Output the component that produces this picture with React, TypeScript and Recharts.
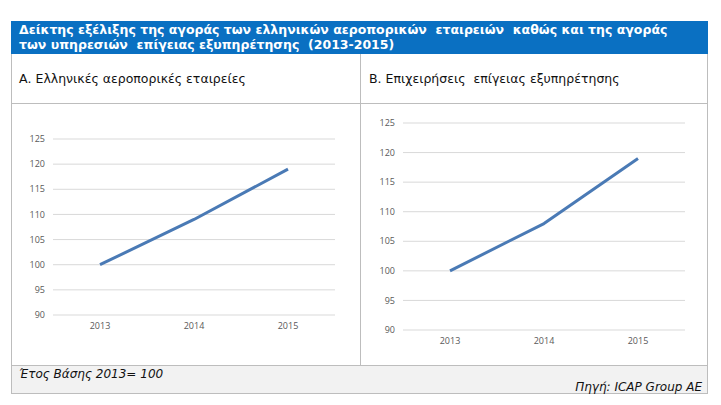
import React from "react";
import { LineChart, Line, XAxis, YAxis, CartesianGrid } from "recharts";

const years = ["2013", "2014", "2015"];
const airlinesIndex = [100, 109, 119];
const groundIndex = [100, 108, 119];
const yTicks = [90, 95, 100, 105, 110, 115, 120, 125];

const titleLine1 = "Δείκτης εξέλιξης της αγοράς των ελληνικών αεροπορικών  εταιρειών  καθώς και της αγοράς";
const titleLine2 = "των υπηρεσιών  επίγειας εξυπηρέτησης  (2013-2015)";
const panelA = "Α. Ελληνικές αεροπορικές εταιρείες";
const panelB = "Β. Επιχειρήσεις  επίγειας εξυπηρέτησης";
const noteText = "Έτος Βάσης 2013= 100";
const sourceText = "Πηγή: ICAP Group AE";

const airlinesData = years.map((y, i) => ({ year: y, value: airlinesIndex[i] }));
const groundData = years.map((y, i) => ({ year: y, value: groundIndex[i] }));

const LINE = "#4a7ab5";
const GRID = "#d9d9d9";
const BORDER = "#bdbdbd";
const tickStyle = { fontSize: 9, fill: "#595959", fontFamily: "'Open Sans', sans-serif" };

function MiniChart({ data, width, height, margin, xHeight }: any) {
  return (
    <LineChart width={width} height={height} data={data} margin={margin}>
      <CartesianGrid horizontal vertical={false} stroke={GRID} strokeWidth={1} />
      <XAxis
        dataKey="year"
        axisLine={false}
        tickLine={false}
        tickSize={0}
        tickMargin={8}
        height={xHeight}
        padding={{ left: 47, right: 47 }}
        tick={tickStyle}
        interval={0}
      />
      <YAxis
        domain={[90, 125]}
        ticks={yTicks}
        axisLine={false}
        tickLine={false}
        tickSize={0}
        tickMargin={8}
        width={42}
        tick={tickStyle}
        interval={0}
      />
      <Line
        type="linear"
        dataKey="value"
        stroke={LINE}
        strokeWidth={3}
        dot={false}
        strokeLinejoin="round"
        isAnimationActive={false}
      />
    </LineChart>
  );
}

export default function App() {
  const font = "'DejaVu Sans', Verdana, sans-serif";
  return (
    <div style={{ position: "absolute", left: 0, top: 0, width: 721, height: 405, background: "#fff", fontFamily: font }}>
      <div
        style={{
          position: "absolute",
          left: 11,
          top: 21,
          width: 697,
          height: 33,
          background: "#0a70c2",
          color: "#fff",
          fontWeight: "bold",
          fontSize: 12.5,
          lineHeight: "15px",
          padding: "1px 0 0 8px",
          boxSizing: "border-box",
          whiteSpace: "pre",
        }}
      >
        <div>{titleLine1}</div>
        <div>{titleLine2}</div>
      </div>
      <div style={{ position: "absolute", left: 11, top: 54, width: 697, height: 311, borderLeft: `1px solid ${BORDER}`, borderRight: `1px solid ${BORDER}`, boxSizing: "border-box" }} />
      <div style={{ position: "absolute", left: 360, top: 54, width: 1, height: 311, background: BORDER }} />
      <div style={{ position: "absolute", left: 11, top: 103, width: 697, height: 1, background: BORDER }} />
      <div style={{ position: "absolute", left: 19, top: 71, fontSize: 12.5, color: "#111", whiteSpace: "pre" }}>{panelA}</div>
      <div style={{ position: "absolute", left: 369, top: 71, fontSize: 12.5, color: "#111", whiteSpace: "pre" }}>{panelB}</div>
      <div style={{ position: "absolute", left: 11, top: 110 }}>
        <MiniChart data={airlinesData} width={350} height={240} margin={{ top: 29, right: 26, left: 0, bottom: 0 }} xHeight={35} />
      </div>
      <div style={{ position: "absolute", left: 361, top: 104 }}>
        <MiniChart data={groundData} width={347} height={260} margin={{ top: 19, right: 23, left: 0, bottom: 0 }} xHeight={34} />
      </div>
      <div
        style={{
          position: "absolute",
          left: 11,
          top: 365,
          width: 697,
          height: 29,
          background: "#f2f2f2",
          border: `1px solid ${BORDER}`,
          boxSizing: "border-box",
          fontStyle: "italic",
          fontSize: 12,
          color: "#111",
        }}
      >
        <div style={{ position: "absolute", left: 7, top: 1 }}>{noteText}</div>
        <div style={{ position: "absolute", right: 5, top: 14 }}>{sourceText}</div>
      </div>
    </div>
  );
}
